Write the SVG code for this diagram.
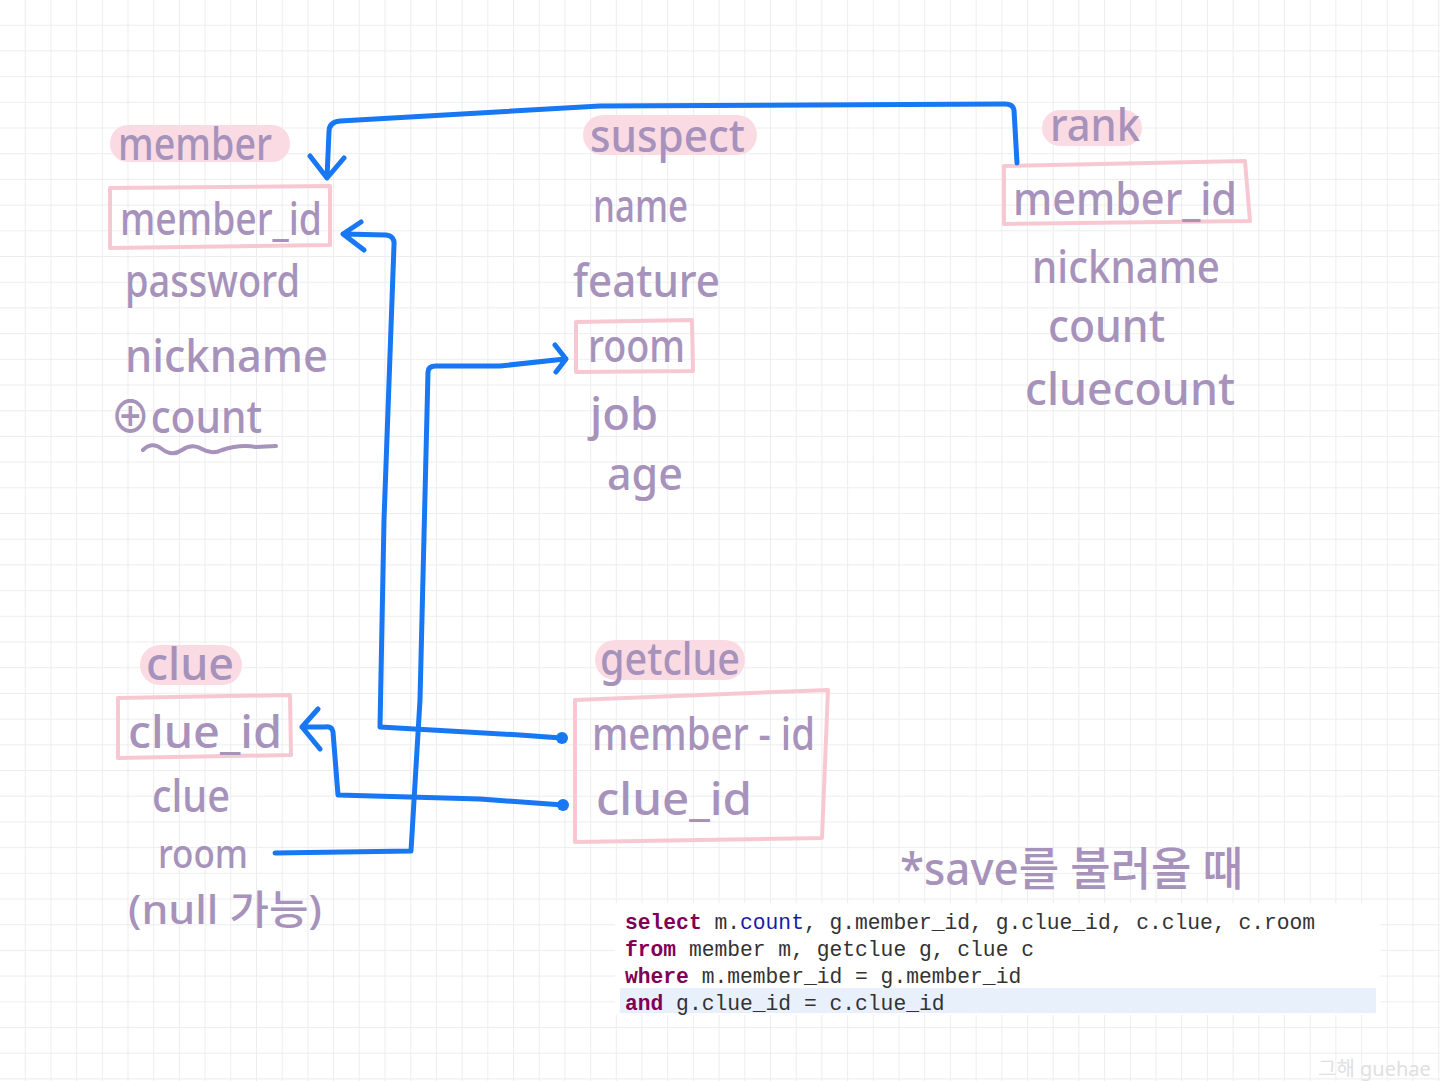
<svg xmlns="http://www.w3.org/2000/svg" width="1440" height="1081" viewBox="0 0 1440 1081">
<defs>
<pattern id="grid" patternUnits="userSpaceOnUse" x="0" y="0" width="25.7" height="25.7">
<path d="M25.2,0 V25.7 M0,25.2 H25.7" stroke="#ededed" stroke-width="1" fill="none"/>
</pattern>
<style>
.hw{font-family:"Noto Sans","Noto Sans CJK KR",sans-serif;font-size:46px;fill:#a692bb;font-weight:500}
.sm{font-size:40px}
.hl{fill:#fbdbe3}
.box{fill:none;stroke:#f8c8d2;stroke-width:4;stroke-linejoin:round}
.con{fill:none;stroke:#1877f2;stroke-width:5;stroke-linecap:round;stroke-linejoin:round}
.dot{fill:#1877f2}
.code{font-family:"Liberation Mono",monospace;font-size:21.3px;fill:#333}
.kw{font-weight:bold;fill:#7f0055}
.fld{fill:#1a1aa6}
</style>
</defs>
<rect width="1440" height="1081" fill="#ffffff"/>
<rect width="1440" height="1081" fill="url(#grid)"/>

<g id="member">
<rect class="hl" x="110" y="125" width="180" height="37" rx="18"/>
<text class="hw" x="118" y="160" textLength="154" lengthAdjust="spacingAndGlyphs">member</text>
<path class="box" d="M110,188 L330,186 L330,245 L110,248 Z"/>
<text class="hw" x="120" y="235" textLength="202" lengthAdjust="spacingAndGlyphs">member_id</text>
<text class="hw" x="125" y="297" textLength="175" lengthAdjust="spacingAndGlyphs">password</text>
<text class="hw" x="125" y="372" textLength="203" lengthAdjust="spacingAndGlyphs">nickname</text>
<text class="hw" x="110" y="433" textLength="152" lengthAdjust="spacingAndGlyphs">⊕count</text>
<path d="M143,450 Q152,441 162,449 T182,450 T202,449 T222,450 Q240,444 256,447 L276,446" fill="none" stroke="#a692bb" stroke-width="4" stroke-linecap="round"/>
</g>

<g id="suspect">
<rect class="hl" x="583" y="115" width="174" height="40" rx="20"/>
<text class="hw" x="590" y="152" textLength="155" lengthAdjust="spacingAndGlyphs">suspect</text>
<text class="hw" x="593" y="222" textLength="95" lengthAdjust="spacingAndGlyphs">name</text>
<text class="hw" x="573" y="297" textLength="147" lengthAdjust="spacingAndGlyphs">feature</text>
<path class="box" d="M576,322 L692,320 L693,371 L576,372 Z"/>
<text class="hw" x="588" y="362" textLength="97" lengthAdjust="spacingAndGlyphs">room</text>
<text class="hw" x="590" y="430" textLength="68" lengthAdjust="spacingAndGlyphs">job</text>
<text class="hw" x="607" y="490" textLength="76" lengthAdjust="spacingAndGlyphs">age</text>
</g>

<g id="rank">
<rect class="hl" x="1042" y="110" width="100" height="36" rx="18"/>
<text class="hw" x="1050" y="141" textLength="90" lengthAdjust="spacingAndGlyphs">rank</text>
<path class="box" d="M1004,166 L1245,161 L1250,221 L1004,224 Z"/>
<text class="hw" x="1013" y="215" textLength="224" lengthAdjust="spacingAndGlyphs">member_id</text>
<text class="hw" x="1032" y="283" textLength="188" lengthAdjust="spacingAndGlyphs">nickname</text>
<text class="hw" x="1048" y="342" textLength="117" lengthAdjust="spacingAndGlyphs">count</text>
<text class="hw" x="1025" y="405" textLength="210" lengthAdjust="spacingAndGlyphs">cluecount</text>
</g>

<g id="clue">
<rect class="hl" x="140" y="645" width="102" height="40" rx="20"/>
<text class="hw" x="146" y="680" textLength="88" lengthAdjust="spacingAndGlyphs">clue</text>
<path class="box" d="M118,698 L290,695 L291,755 L118,758 Z"/>
<text class="hw" x="128" y="748" textLength="154" lengthAdjust="spacingAndGlyphs">clue_id</text>
<text class="hw" x="152" y="812" textLength="78" lengthAdjust="spacingAndGlyphs">clue</text>
<text class="hw sm" x="158" y="868" textLength="90" lengthAdjust="spacingAndGlyphs">room</text>
<text class="hw sm" x="128" y="924" textLength="194" lengthAdjust="spacingAndGlyphs">(null 가능)</text>
</g>

<g id="getclue">
<rect class="hl" x="595" y="640" width="150" height="40" rx="20"/>
<text class="hw" x="600" y="675" textLength="140" lengthAdjust="spacingAndGlyphs">getclue</text>
<path class="box" d="M575,700 L828,690 L822,838 L575,842 Z"/>
<text class="hw" x="592" y="750" textLength="223" lengthAdjust="spacingAndGlyphs">member - id</text>
<text class="hw" x="596" y="815" textLength="156" lengthAdjust="spacingAndGlyphs">clue_id</text>
</g>

<g id="note">
<text class="hw" x="900" y="885" textLength="343" lengthAdjust="spacingAndGlyphs">*save를 불러올 때</text>
<rect x="615" y="903" width="765" height="112" fill="#ffffff"/>
<rect x="620" y="988" width="756" height="25" fill="#e8f0fc"/>
<text class="code" x="625" y="929"><tspan class="kw">select</tspan> m.<tspan class="fld">count</tspan>, g.member_id, g.clue_id, c.clue, c.room</text>
<text class="code" x="625" y="956"><tspan class="kw">from</tspan> member m, getclue g, clue c</text>
<text class="code" x="625" y="983"><tspan class="kw">where</tspan> m.member_id = g.member_id</text>
<text class="code" x="625" y="1010"><tspan class="kw">and</tspan> g.clue_id = c.clue_id</text>
</g>

<g id="connectors">
<path class="con" d="M1017,163 L1014,110 Q1013,104 1005,104 L600,106 L340,121 Q329,122 329,132 L327,178 M310,156 L327,178 L344,158"/>
<path class="con" d="M561,738 L520,735 L380,727 L384,520 L394,245 Q395,236 386,235 L343,234 M361,222 L343,234 L364,250"/>
<path class="con" d="M563,805 L480,799 L338,795 L333,732 Q332,726 325,727 L302,727 M318,709 L302,727 L320,749"/>
<path class="con" d="M275,853 L411,851 L420,700 L428,372 Q428,366 436,366 L500,366 L565,359 M555,345 L566,359 L556,372"/>
<circle class="dot" cx="562" cy="738" r="6"/>
<circle class="dot" cx="563" cy="805" r="6"/>
</g>

<text x="1318" y="1076" font-family="Noto Sans,Noto Sans CJK KR,sans-serif" font-size="20" fill="#e0e0e0">그해 guehae</text>
</svg>
